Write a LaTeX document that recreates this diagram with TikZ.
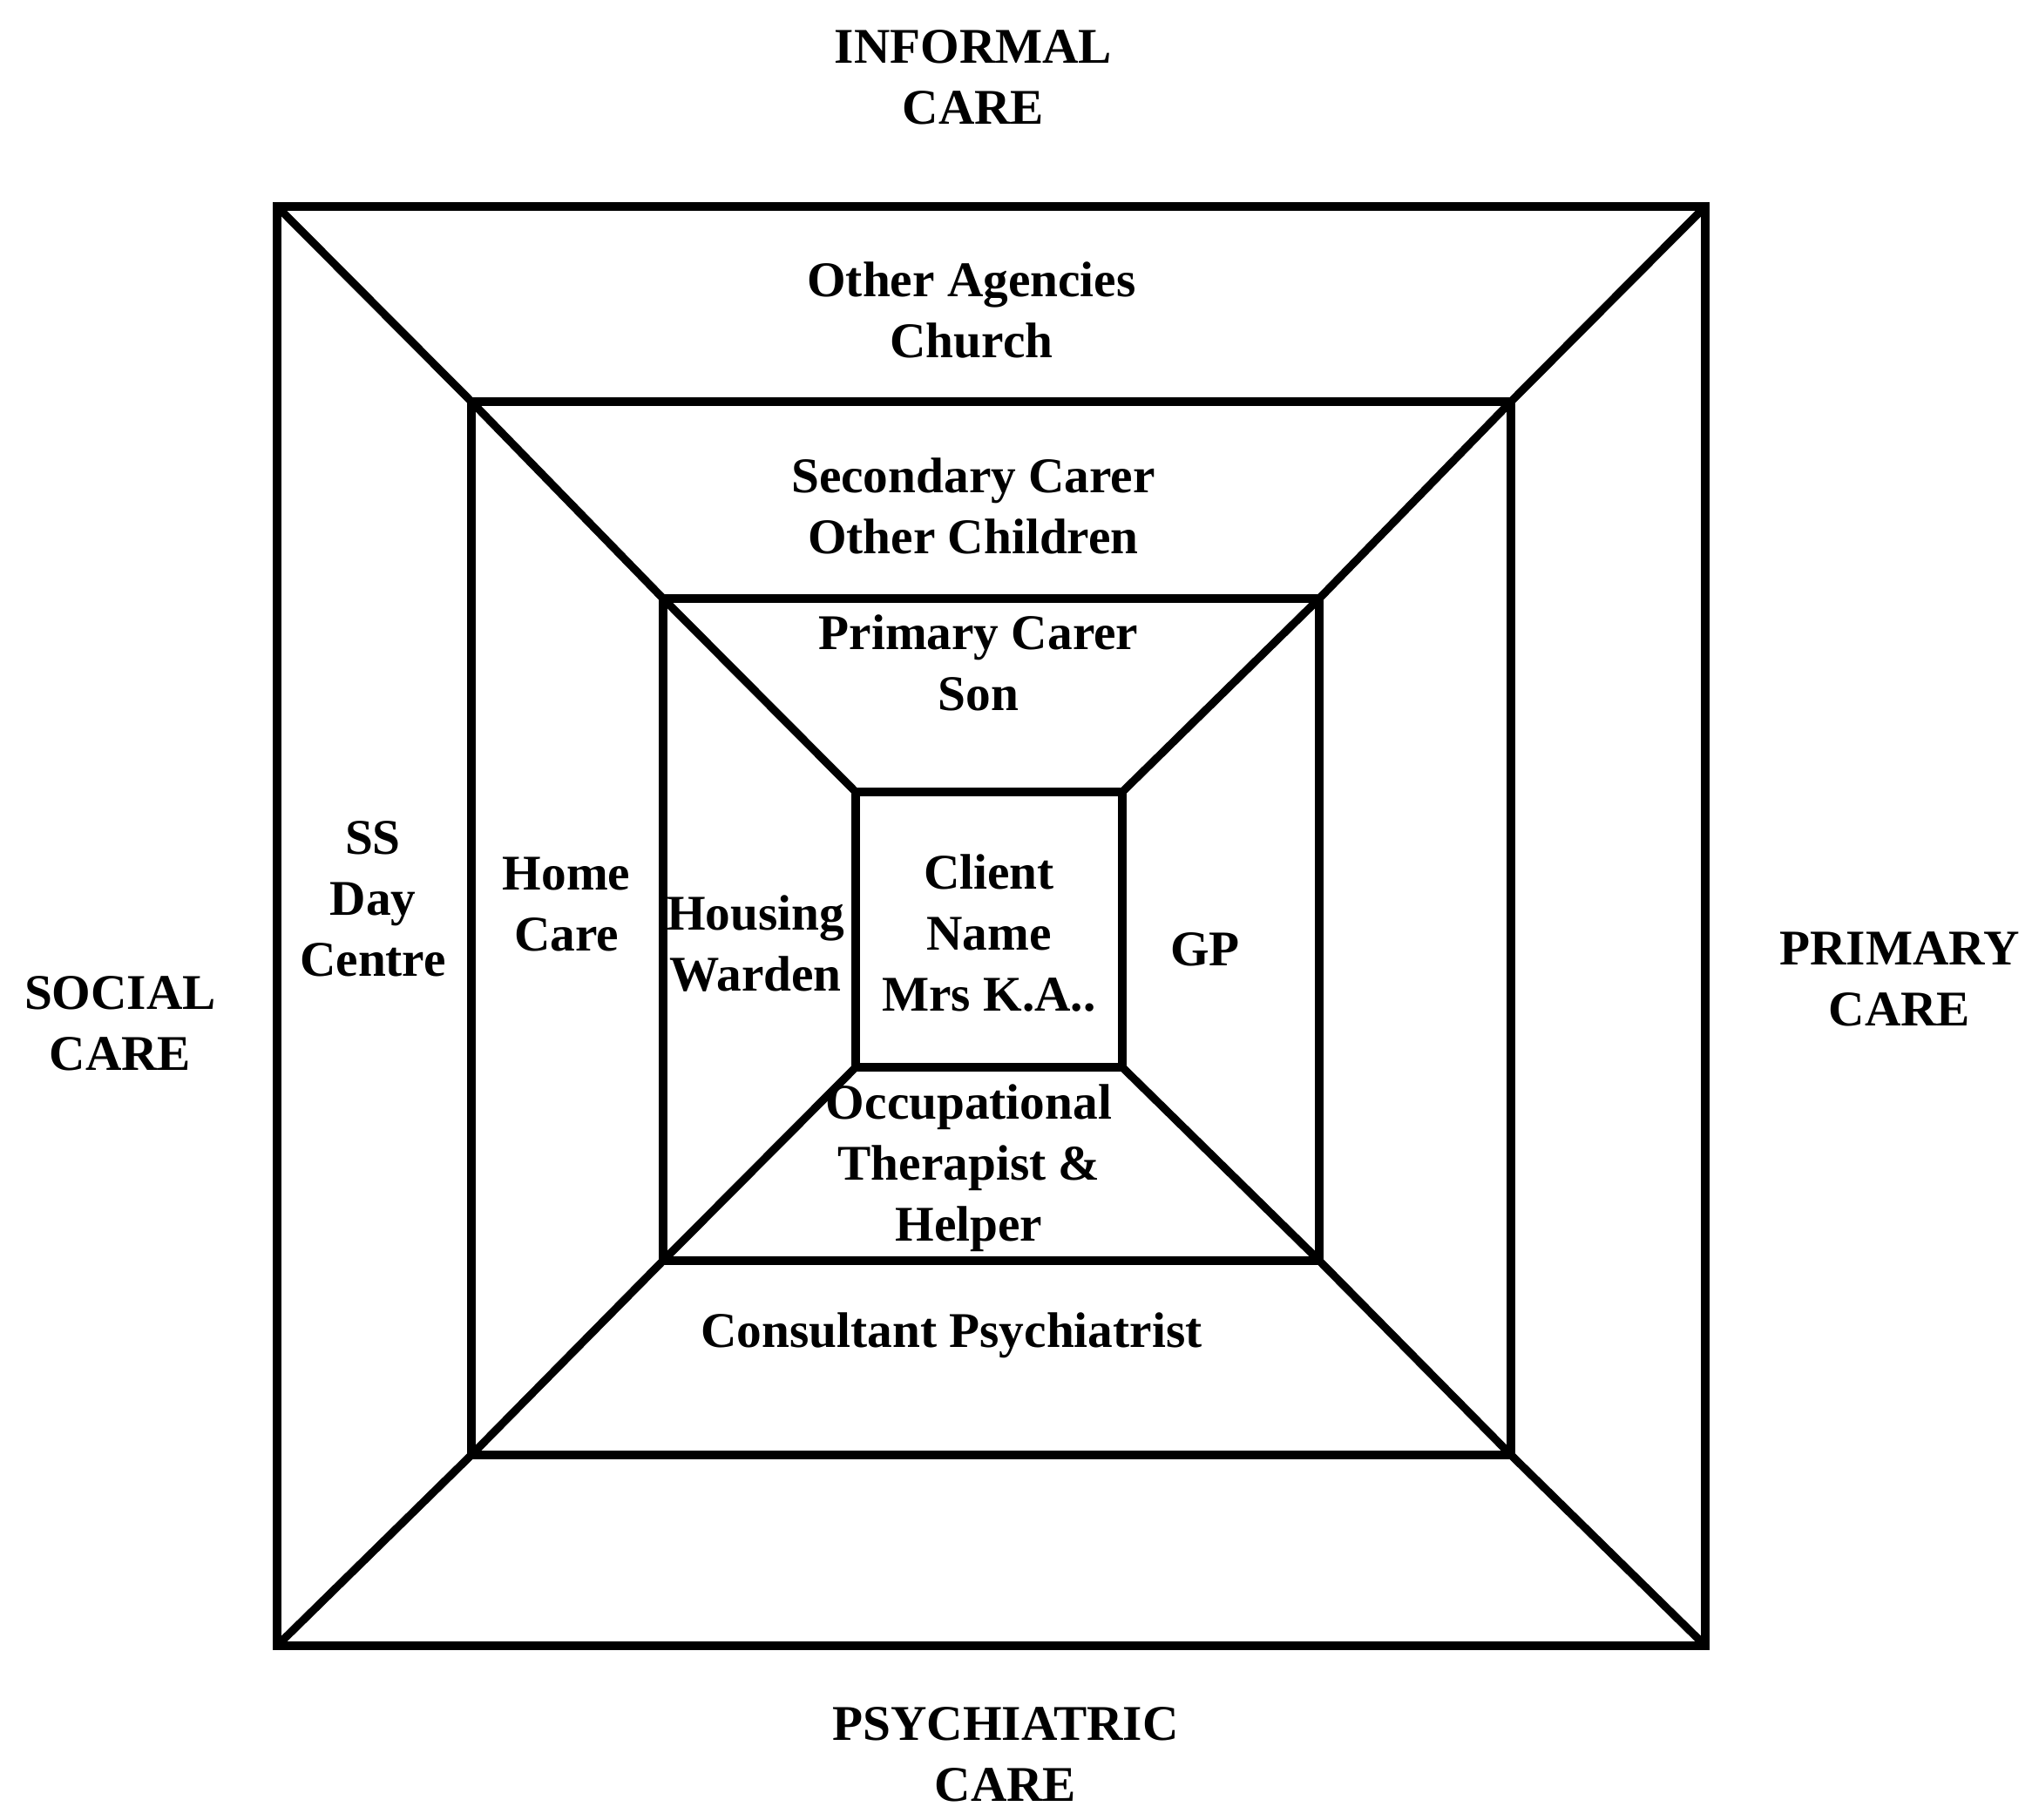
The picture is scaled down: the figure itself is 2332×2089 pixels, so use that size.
\documentclass[tikz,border=0pt]{standalone}
\usepackage{fontspec}
\setmainfont{Liberation Serif}
\begin{document}
\begin{tikzpicture}[x=0.01cm,y=-0.01cm,
  lbl/.style={font=\bfseries\fontsize{16.3}{19.9}\selectfont, align=center, inner sep=0pt},
  frame/.style={line width=2.8pt, line join=miter},
  diag/.style={line width=2.6pt, line cap=butt}]
\useasboundingbox (0,0) rectangle (2332,2089);
% corners of the four nested squares
\coordinate (o1) at (318,237);  \coordinate (o2) at (1957,237);
\coordinate (o3) at (1957,1889); \coordinate (o4) at (318,1889);
\coordinate (s1) at (541,461);  \coordinate (s2) at (1734,461);
\coordinate (s3) at (1734,1670); \coordinate (s4) at (541,1670);
\coordinate (t1) at (761,687);  \coordinate (t2) at (1514,687);
\coordinate (t3) at (1514,1447); \coordinate (t4) at (761,1447);
\coordinate (i1) at (982,909);  \coordinate (i2) at (1288,909);
\coordinate (i3) at (1288,1225); \coordinate (i4) at (982,1225);
% squares
\draw[frame] (o1) -- (o2) -- (o3) -- (o4) -- cycle;
\draw[frame] (s1) -- (s2) -- (s3) -- (s4) -- cycle;
\draw[frame] (t1) -- (t2) -- (t3) -- (t4) -- cycle;
\draw[frame] (i1) -- (i2) -- (i3) -- (i4) -- cycle;
% diagonals
\draw[diag] (o1) -- (s1) -- (t1) -- (i1);
\draw[diag] (o2) -- (s2) -- (t2) -- (i2);
\draw[diag] (o3) -- (s3) -- (t3) -- (i3);
\draw[diag] (o4) -- (s4) -- (t4) -- (i4);
% outer labels
\node[lbl] (informal) at (1117,89) {INFORMAL\\CARE};
\node[lbl] (social) at (138,1175) {SOCIAL\\CARE};
\node[lbl] (primary) at (2180,1124) {PRIMARY\\CARE};
\node[lbl] (psych) at (1154,2014) {PSYCHIATRIC\\CARE};
% inner labels
\node[lbl] (other) at (1115,356) {Other Agencies\\Church};
\node[lbl] (secondary) at (1117,581) {Secondary Carer\\Other Children};
\node[lbl] (primcarer) at (1123,761) {Primary Carer\\Son};
\node[lbl] (ss) at (428,1032) {SS\\Day\\Centre};
\node[lbl] (home) at (650,1038) {Home\\Care};
\node[lbl] (housing) at (867,1083) {Housing\\Warden};
\node[lbl] (client) at (1135,1071) {Client\\Name\\Mrs K.A..};
\node[lbl] (gp) at (1383,1090) {GP};
\node[lbl] (ot) at (1112,1341) {Occupational\\Therapist \&\\Helper};
\node[lbl] (consult) at (1092,1533) {Consultant Psychiatrist};
\end{tikzpicture}
\end{document}
